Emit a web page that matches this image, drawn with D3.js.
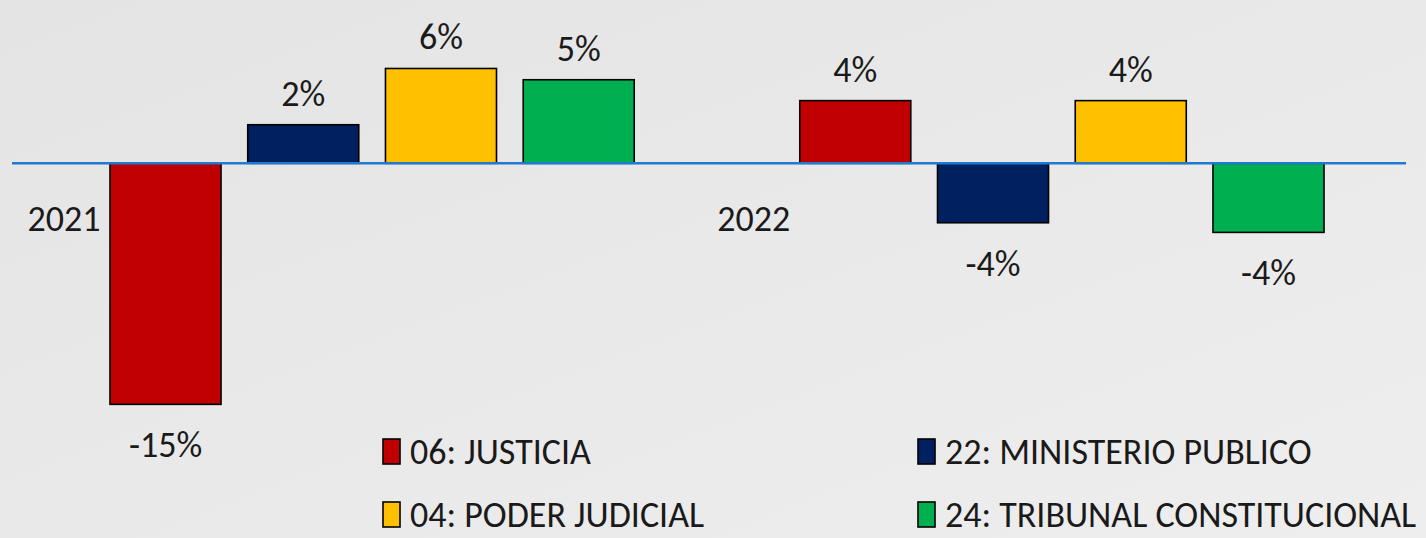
<!DOCTYPE html>
<html lang="es">
<head>
<meta charset="utf-8">
<title>variacion</title>
<script src="https://cdn.jsdelivr.net/npm/d3@7"></script>
<style>
  body { margin: 0; overflow: hidden; }
  svg text { font-family: "Carlito", "Liberation Sans Narrow", "DejaVu Sans Condensed", "Liberation Sans", sans-serif; fill: #1a1a1a; }
</style>
</head>
<body>
<script>
var w = 1426;
var h = 538;

// data
var years = ["2021", "2022"];
var series = ["06: JUSTICIA", "22: MINISTERIO PUBLICO", "04: PODER JUDICIAL", "24: TRIBUNAL CONSTITUCIONAL"];
var colors = ["#C00000", "#002060", "#FFC000", "#00B050"];
var values2021 = [-15.0, 2.4, 5.9, 5.2];
var values2022 = [3.9, -3.7, 3.9, -4.3];

var dataset = [];
years.forEach(function(y, i) {
    var vals = i === 0 ? values2021 : values2022;
    series.forEach(function(s, j) {
        dataset.push({ year: y, serie: s, value: vals[j] });
    });
});

var svg = d3.select("body").append("svg")
    .attr("width", w)
    .attr("height", h);

// background
var defs = svg.append("defs");
var grad = defs.append("linearGradient")
    .attr("id", "bg")
    .attr("x1", "0%").attr("y1", "0%")
    .attr("x2", "100%").attr("y2", "100%");
grad.append("stop").attr("offset", "0%").attr("stop-color", "#e4e4e4");
grad.append("stop").attr("offset", "50%").attr("stop-color", "#e9e9e9");
grad.append("stop").attr("offset", "100%").attr("stop-color", "#eeeeee");
svg.append("rect").attr("width", w).attr("height", h).attr("fill", "url(#bg)");

// scales
var x0 = d3.scaleBand()
    .domain(years)
    .range([110, 1324])
    .paddingInner(0.24)
    .paddingOuter(0);

var x1 = d3.scaleBand()
    .domain(series)
    .range([0, x0.bandwidth()])
    .paddingInner(0.194)
    .paddingOuter(0);

var k = 16.07;
var yScale = d3.scaleLinear()
    .domain([-16, 7])
    .range([163.3 + 16 * k, 163.3 - 7 * k]);

var color = d3.scaleOrdinal().domain(series).range(colors);

var fmt = function(v) { return Math.round(v) + "%"; };

// bars
svg.selectAll("rect.bar")
    .data(dataset)
    .enter()
    .append("rect")
    .attr("class", "bar")
    .attr("x", function(d) { return x0(d.year) + x1(d.serie); })
    .attr("width", x1.bandwidth())
    .attr("y", function(d) { return yScale(Math.max(0, d.value)); })
    .attr("height", function(d) { return Math.abs(yScale(d.value) - yScale(0)); })
    .attr("fill", function(d) { return color(d.serie); })
    .attr("stroke", "#000")
    .attr("stroke-width", 1.6);

// zero line
svg.append("line")
    .attr("x1", 12)
    .attr("x2", 1406)
    .attr("y1", yScale(0))
    .attr("y2", yScale(0))
    .attr("stroke", "#1f7ad0")
    .attr("stroke-width", 2.5);

// value labels
svg.selectAll("text.val")
    .data(dataset)
    .enter()
    .append("text")
    .attr("class", "val")
    .attr("x", function(d) { return x0(d.year) + x1(d.serie) + x1.bandwidth() / 2; })
    .attr("y", function(d) {
        return d.value >= 0 ? yScale(d.value) - 19 : yScale(d.value) + 53;
    })
    .attr("text-anchor", "middle")
    .attr("font-size", 36)
    .text(function(d) { return fmt(d.value); });

// category labels
svg.selectAll("text.cat")
    .data(years)
    .enter()
    .append("text")
    .attr("class", "cat")
    .attr("x", function(d) { return x0(d) - 46; })
    .attr("y", yScale(0) + 68)
    .attr("text-anchor", "middle")
    .attr("font-size", 36)
    .text(function(d) { return d; });

// legend
var legend = svg.selectAll("g.leg")
    .data(series)
    .enter()
    .append("g")
    .attr("class", "leg")
    .attr("transform", function(d, i) {
        return "translate(" + (383 + (i % 2) * 535) + "," + (439 + Math.floor(i / 2) * 63) + ")";
    });

legend.append("rect")
    .attr("width", 17)
    .attr("height", 25)
    .attr("fill", function(d) { return color(d); })
    .attr("stroke", "#000")
    .attr("stroke-width", 1.6);

legend.append("text")
    .attr("x", 27)
    .attr("y", 25)
    .attr("font-size", 36)
    .text(function(d) { return d; });
</script>
</body>
</html>
